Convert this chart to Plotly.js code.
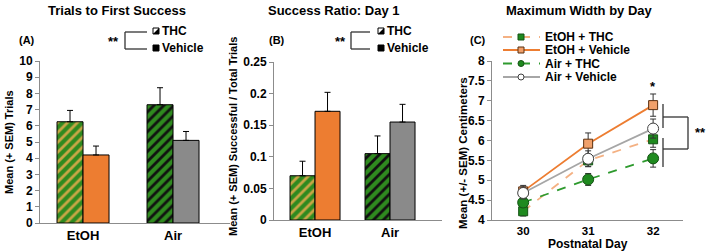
<!DOCTYPE html>
<html>
<head>
<meta charset="utf-8">
<script src="https://cdn.plot.ly/plotly-3.0.1.min.js"></script>
<style>html,body{margin:0;padding:0;background:#fff;}#chart{width:709px;height:252px;}</style>
</head>
<body>
<div id="chart"></div>
<script>
// ---------- data ----------
const categories = ['EtOH', 'Air'];
// Panel A: Trials to first success
const trialsTHC = [6.25, 7.3];
const trialsTHCErr = [0.7, 1.05];
const trialsVeh = [4.2, 5.1];
const trialsVehErr = [0.55, 0.55];
// Panel B: Success ratio day 1
const ratioTHC = [0.07, 0.105];
const ratioTHCErr = [0.023, 0.028];
const ratioVeh = [0.172, 0.155];
const ratioVehErr = [0.03, 0.028];
// Panel C: Maximum width by day
const days = [30, 31, 32];
const etohTHC = [4.22, 5.5, 6.03];
const etohTHCErr = [0.12, 0.15, 0.2];
const etohVeh = [4.72, 5.92, 6.89];
const etohVehErr = [0.15, 0.27, 0.28];
const airTHC = [4.44, 5.02, 5.55];
const airTHCErr = [0.12, 0.15, 0.22];
const airVeh = [4.68, 5.54, 6.3];
const airVehErr = [0.15, 0.2, 0.24];
const seriesNames = ['EtOH + THC', 'EtOH + Vehicle', 'Air + THC', 'Air + Vehicle'];

// ---------- styling ----------
const W = 709, H = 252;
const px = x => x / W;
const py = y => 1 - y / H;
const FONT = 'Liberation Sans, Arial, sans-serif';
const GREEN = '#2f8a1f';
const TAN = '#c9a646';
const ORANGE = '#ed7d31';
const GRAY = '#8a8a8a';
const AXC = '#8c8c8c';

const tickFont = {family: FONT, size: 12, color: '#000', weight: 'bold'};
const catFont = {family: FONT, size: 13, color: '#000', weight: 'bold'};

function errPlus(arr) {
  return {type: 'data', symmetric: false, array: arr, arrayminus: arr.map(() => 0),
          color: '#000', thickness: 1, width: 3};
}

const wA = 26 / 90, wB = 25 / 75;

const traces = [
  // Panel A
  {type: 'bar', x: categories, y: trialsTHC, xaxis: 'x', yaxis: 'y', width: wA, offset: -wA,
   marker: {color: GREEN, line: {color: '#000', width: 1},
     pattern: {shape: '/', fgcolor: [TAN, '#111'], bgcolor: [GREEN, GREEN], size: 7, solidity: 0.4, fillmode: 'replace'}},
   error_y: errPlus(trialsTHCErr), hoverinfo: 'skip'},
  {type: 'bar', x: categories, y: trialsVeh, xaxis: 'x', yaxis: 'y', width: wA, offset: 0,
   marker: {color: [ORANGE, GRAY], line: {color: '#000', width: 1}},
   error_y: errPlus(trialsVehErr), hoverinfo: 'skip'},
  // Panel B
  {type: 'bar', x: categories, y: ratioTHC, xaxis: 'x2', yaxis: 'y2', width: wB, offset: -wB,
   marker: {color: GREEN, line: {color: '#000', width: 1},
     pattern: {shape: '/', fgcolor: [TAN, '#111'], bgcolor: [GREEN, GREEN], size: 7, solidity: 0.4, fillmode: 'replace'}},
   error_y: errPlus(ratioTHCErr), hoverinfo: 'skip'},
  {type: 'bar', x: categories, y: ratioVeh, xaxis: 'x2', yaxis: 'y2', width: wB, offset: 0,
   marker: {color: [ORANGE, GRAY], line: {color: '#000', width: 1}},
   error_y: errPlus(ratioVehErr), hoverinfo: 'skip'},
];

function lineTrace(name, y, err, lineColor, dash, symbol, mColor, mLine, size) {
  return {type: 'scatter', mode: 'lines+markers', name: name, x: days, y: y, xaxis: 'x3', yaxis: 'y3',
    line: {color: lineColor, width: 1.8, dash: dash},
    marker: {symbol: symbol, size: size, color: mColor, line: {color: mLine, width: 1}},
    error_y: {type: 'data', array: err, color: '#333', thickness: 1, width: 3}, hoverinfo: 'skip'};
}
traces.push(lineTrace(seriesNames[0], etohTHC, etohTHCErr, '#f4b183', 'dash', 'square', '#1f8a1f', '#145214', 9));
traces.push(lineTrace(seriesNames[1], etohVeh, etohVehErr, ORANGE, 'solid', 'square', '#f0a06a', '#5a3010', 9));
traces.push(lineTrace(seriesNames[2], airTHC, airTHCErr, '#2e9a2e', 'dash', 'circle', '#1f8a1f', '#145214', 11));
traces.push(lineTrace(seriesNames[3], airVeh, airVehErr, '#a6a6a6', 'solid', 'circle', '#ffffff', '#404040', 11));

// ---------- decorations ----------
const annotations = [];
const shapes = [];
function ann(text, x, y, size, opts) {
  annotations.push(Object.assign({text: text, x: px(x), y: py(y), xref: 'paper', yref: 'paper',
    showarrow: false, font: {family: FONT, size: size, color: '#000', weight: 'bold'},
    xanchor: 'center', yanchor: 'middle'}, opts || {}));
}
function seg(x0, y0, x1, y1, color, width, dash) {
  shapes.push({type: 'line', xref: 'paper', yref: 'paper', x0: px(x0), y0: py(y0), x1: px(x1), y1: py(y1),
    line: {color: color || '#000', width: width || 1.3, dash: dash || 'solid'}});
}
function rect(x0, y0, x1, y1, fill, lineColor) {
  shapes.push({type: 'rect', xref: 'paper', yref: 'paper', x0: px(x0), y0: py(y0), x1: px(x1), y1: py(y1),
    fillcolor: fill, line: {color: lineColor || '#000', width: 1}});
}

// titles
ann('Trials to First Success', 117, 11, 13);
ann('Success Ratio: Day 1', 334, 11, 13);
ann('Maximum Width by Day', 579, 11, 13);
// panel letters
ann('(A)', 27, 40, 11);
ann('(B)', 277, 40, 11);
ann('(C)', 478, 40, 11);
// y-axis titles
ann('Mean (+ SEM) Trials', 9, 142, 11, {textangle: -90});
ann('Mean (+ SEM) Successful / Total Trials', 233, 137, 11, {textangle: -90});
ann('Mean (+/- SEM) Centimeters', 463, 153, 11.5, {textangle: -90});
// x-axis title C
ann('Postnatal Day', 588, 252, 12, {yanchor: 'bottom', borderpad: 0});

// legends for A and B
function barLegend(starX, brX0, brX1, boxX) {
  ann('**', starX, 42, 13);
  seg(brX0, 32, brX1, 32, '#333', 1.3);
  seg(brX0, 32, brX0, 49, '#333', 1.3);
  seg(brX0, 49, brX1, 49, '#333', 1.3);
  rect(boxX, 28, boxX + 6, 34, '#fff', '#000');
  shapes.push({type: 'path', xref: 'paper', yref: 'paper',
    path: `M ${px(boxX + 6)} ${py(28)} L ${px(boxX + 6)} ${py(34)} L ${px(boxX)} ${py(34)} Z`,
    fillcolor: '#000', line: {width: 0}});
  rect(boxX, 45, boxX + 6, 51, '#000', '#000');
  ann('THC', boxX + 7, 31, 12, {xanchor: 'left'});
  ann('Vehicle', boxX + 7, 48, 12, {xanchor: 'left'});
}
barLegend(113, 125, 147, 153);
barLegend(340, 351, 370, 378);

// legend for C
const legRows = [37, 50, 63.5, 77];
const legStyle = [
  {c: '#f4b183', dash: 'dash', sym: 'sq', fill: '#1f8a1f', lc: '#145214'},
  {c: ORANGE, dash: 'solid', sym: 'sq', fill: '#f0a06a', lc: '#5a3010'},
  {c: '#2e9a2e', dash: 'dash', sym: 'ci', fill: '#1f8a1f', lc: '#145214'},
  {c: '#a6a6a6', dash: 'solid', sym: 'ci', fill: '#ffffff', lc: '#404040'},
];
legRows.forEach((yy, i) => {
  const s = legStyle[i];
  seg(503, yy, 540, yy, s.c, 1.8, s.dash);
  if (s.sym === 'sq') {
    rect(518, yy - 3, 524, yy + 3, s.fill, s.lc);
  } else {
    shapes.push({type: 'circle', xref: 'paper', yref: 'paper', x0: px(518), y0: py(yy - 3), x1: px(524), y1: py(yy + 3),
      fillcolor: s.fill, line: {color: s.lc, width: 1}});
  }
  ann(seriesNames[i], 543, yy, 12, {xanchor: 'left'});
});

// significance marks C
ann('*', 653, 86, 13);
seg(663, 104, 663, 128, '#333', 1.3);
seg(663, 138, 663, 167, '#333', 1.3);
seg(663, 117, 688, 117, '#333', 1.3);
seg(663, 149, 688, 149, '#333', 1.3);
seg(688, 117, 688, 149, '#333', 1.3);
ann('**', 700, 132, 13);

const baseY = {showline: true, linecolor: AXC, linewidth: 1, ticks: 'outside', ticklen: 4, tickcolor: AXC,
  showgrid: false, zeroline: false, tickfont: tickFont, fixedrange: true};
const baseX = {showline: true, linecolor: AXC, linewidth: 1, showgrid: false, zeroline: false,
  tickfont: tickFont, fixedrange: true};

const layout = {
  width: W, height: H,
  margin: {l: 0, r: 0, t: 0, b: 0},
  paper_bgcolor: '#fff', plot_bgcolor: 'rgba(0,0,0,0)',
  showlegend: false, barmode: 'overlay',
  font: {family: FONT, size: 11, color: '#000'},
  xaxis: Object.assign({}, baseX, {domain: [px(40), px(230)], anchor: 'y', type: 'category',
    range: [-0.478, 1.633], ticks: '', tickfont: catFont}),
  yaxis: Object.assign({}, baseY, {domain: [py(223), py(61)], anchor: 'x', range: [0, 10], dtick: 1}),
  xaxis2: Object.assign({}, baseX, {domain: [px(274), px(442)], anchor: 'y2', type: 'category',
    range: [-0.547, 1.693], ticks: '', tickfont: catFont}),
  yaxis2: Object.assign({}, baseY, {domain: [py(220), py(62)], anchor: 'x2', range: [0, 0.25], dtick: 0.05}),
  xaxis3: Object.assign({}, baseX, {domain: [px(492), px(683)], anchor: 'y3',
    range: [29.52, 32.46], tickvals: days, ticktext: days.map(String), ticks: '',
    tickfont: {family: FONT, size: 11.5, color: '#000', weight: 'bold'}}),
  yaxis3: Object.assign({}, baseY, {domain: [py(220), py(61)], anchor: 'x3', range: [4, 8], dtick: 0.5}),
  annotations: annotations,
  shapes: shapes,
};

Plotly.newPlot('chart', traces, layout, {staticPlot: true, displayModeBar: false});
</script>
</body>
</html>
